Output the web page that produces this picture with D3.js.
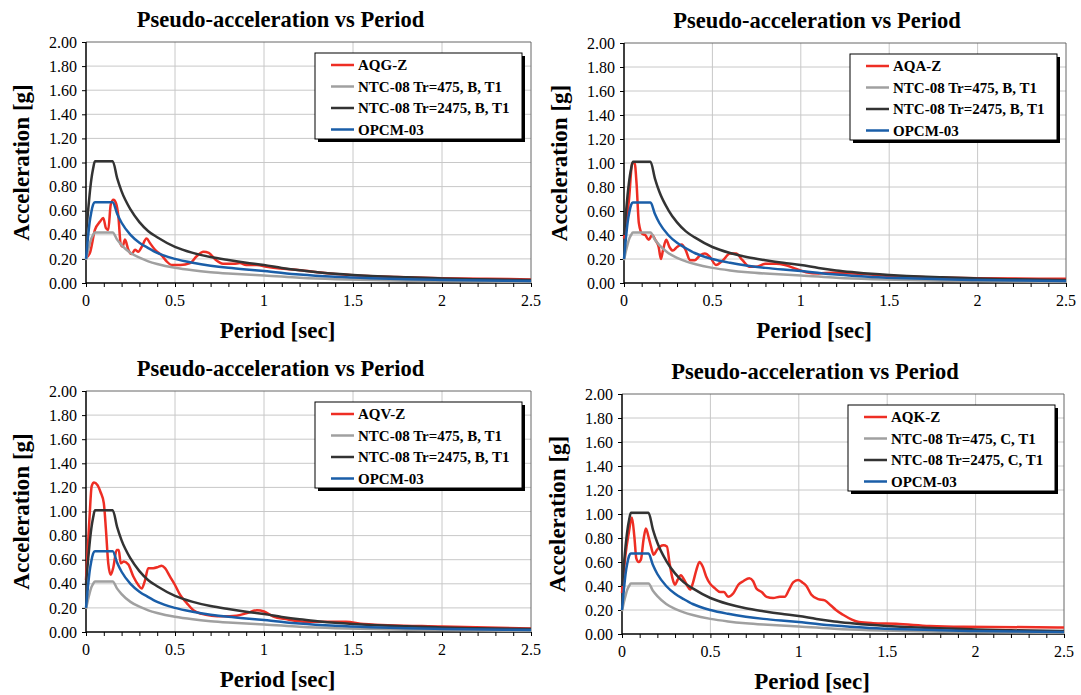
<!DOCTYPE html>
<html>
<head>
<meta charset="utf-8">
<script src="https://cdn.jsdelivr.net/npm/d3@7"></script>
<style>
  body { margin: 0; background: #fff; }
  svg text { font-family: "Times New Roman", "Liberation Serif", Times, "DejaVu Serif", serif !important; }
</style>
</head>
<body>
<div id="chart"></div>
<script>
var width = 1081, height = 695;
var serif = '"Times New Roman", "Liberation Serif", Times, "DejaVu Serif", serif';

// period [s], acceleration [g]
var ntc475 = [[0,0.19],[0.01,0.26],[0.02,0.32],[0.03,0.37],[0.04,0.40],[0.05,0.42],[0.15,0.42],[0.175,0.36],[0.2,0.315],
  [0.25,0.25],[0.3,0.21],[0.35,0.18],[0.4,0.158],[0.5,0.126],[0.6,0.105],[0.7,0.09],[0.8,0.079],[0.9,0.07],[1.0,0.063],
  [1.2,0.044],[1.4,0.032],[1.6,0.025],[1.8,0.019],[2.0,0.016],[2.25,0.012],[2.5,0.01]];
var ntc2475 = [[0,0.40],[0.01,0.57],[0.02,0.73],[0.03,0.86],[0.04,0.95],[0.05,1.01],[0.15,1.01],[0.175,0.87],[0.2,0.76],
  [0.25,0.61],[0.3,0.505],[0.35,0.43],[0.4,0.38],[0.5,0.30],[0.6,0.25],[0.7,0.215],[0.8,0.19],[0.9,0.168],[1.0,0.15],
  [1.1,0.125],[1.2,0.105],[1.3,0.09],[1.4,0.077],[1.5,0.067],[1.6,0.059],[1.8,0.047],[2.0,0.038],[2.2,0.031],[2.5,0.024]];
var opcm03 = [[0,0.20],[0.01,0.36],[0.02,0.50],[0.03,0.59],[0.04,0.65],[0.05,0.67],[0.15,0.67],[0.175,0.575],[0.2,0.50],
  [0.25,0.40],[0.3,0.335],[0.35,0.29],[0.4,0.25],[0.5,0.20],[0.6,0.168],[0.7,0.144],[0.8,0.126],[0.9,0.112],[1.0,0.10],
  [1.2,0.07],[1.4,0.051],[1.6,0.039],[1.8,0.031],[2.0,0.025],[2.25,0.02],[2.5,0.016]];

var aqgZ = [[0,0.21],[0.022,0.25],[0.05,0.44],[0.079,0.51],[0.097,0.54],[0.112,0.455],[0.125,0.44],[0.139,0.65],[0.154,0.69],
  [0.169,0.66],[0.182,0.55],[0.195,0.32],[0.205,0.30],[0.219,0.36],[0.238,0.275],[0.256,0.24],[0.275,0.275],[0.294,0.26],
  [0.313,0.30],[0.34,0.37],[0.36,0.33],[0.388,0.275],[0.425,0.23],[0.453,0.18],[0.48,0.15],[0.53,0.15],[0.585,0.165],
  [0.62,0.22],[0.66,0.26],[0.69,0.25],[0.73,0.19],[0.77,0.16],[0.83,0.16],[0.865,0.165],[0.9,0.15],[0.96,0.15],[1.015,0.135],
  [1.09,0.12],[1.18,0.11],[1.3,0.09],[1.5,0.065],[1.75,0.05],[2.0,0.04],[2.25,0.035],[2.5,0.03]];
var aqaZ = [[0,0.37],[0.028,0.69],[0.047,1.0],[0.06,1.0],[0.071,0.83],[0.084,0.50],[0.103,0.41],[0.12,0.40],[0.14,0.36],
  [0.159,0.40],[0.177,0.36],[0.196,0.30],[0.209,0.20],[0.22,0.27],[0.239,0.36],[0.257,0.30],[0.276,0.27],[0.30,0.30],
  [0.326,0.32],[0.35,0.27],[0.373,0.19],[0.40,0.19],[0.43,0.23],[0.457,0.245],[0.485,0.22],[0.52,0.15],[0.56,0.19],
  [0.60,0.245],[0.634,0.245],[0.67,0.19],[0.71,0.135],[0.746,0.135],[0.80,0.16],[0.86,0.16],[0.91,0.15],[0.97,0.12],
  [1.03,0.09],[1.1,0.08],[1.18,0.085],[1.3,0.08],[1.5,0.06],[2.0,0.04],[2.5,0.035]];
var aqvZ = [[0,0.43],[0.019,0.93],[0.032,1.21],[0.045,1.24],[0.064,1.22],[0.082,1.16],[0.10,1.07],[0.112,0.85],[0.125,0.57],
  [0.139,0.475],[0.154,0.54],[0.172,0.68],[0.184,0.68],[0.195,0.57],[0.213,0.585],[0.238,0.56],[0.266,0.46],[0.294,0.39],
  [0.313,0.36],[0.33,0.42],[0.35,0.53],[0.378,0.53],[0.406,0.54],[0.425,0.55],[0.444,0.53],[0.472,0.46],[0.50,0.39],
  [0.528,0.31],[0.566,0.24],[0.603,0.18],[0.65,0.15],[0.706,0.135],[0.77,0.13],[0.846,0.135],[0.90,0.155],[0.96,0.18],
  [1.0,0.17],[1.05,0.13],[1.13,0.105],[1.24,0.085],[1.37,0.085],[1.46,0.085],[1.56,0.067],[2.0,0.045],[2.5,0.03]];
var aqkZ = [[0,0.34],[0.019,0.65],[0.038,0.84],[0.056,0.97],[0.07,0.81],[0.081,0.63],[0.094,0.60],[0.107,0.62],[0.122,0.79],
  [0.135,0.88],[0.15,0.81],[0.164,0.73],[0.179,0.66],[0.197,0.70],[0.216,0.73],[0.235,0.74],[0.254,0.73],[0.269,0.59],
  [0.288,0.45],[0.30,0.41],[0.314,0.45],[0.333,0.49],[0.352,0.45],[0.37,0.40],[0.385,0.37],[0.40,0.42],[0.42,0.53],
  [0.438,0.60],[0.457,0.56],[0.476,0.48],[0.498,0.42],[0.526,0.38],[0.555,0.35],[0.577,0.35],[0.60,0.31],[0.63,0.34],
  [0.658,0.41],[0.686,0.44],[0.72,0.465],[0.742,0.44],[0.76,0.38],[0.79,0.35],[0.818,0.31],[0.855,0.30],[0.893,0.31],
  [0.92,0.31],[0.945,0.37],[0.968,0.43],[0.996,0.45],[1.02,0.43],[1.043,0.40],[1.07,0.33],[1.11,0.29],[1.147,0.28],
  [1.18,0.24],[1.21,0.20],[1.25,0.16],[1.30,0.12],[1.34,0.10],[1.42,0.09],[1.55,0.085],[1.74,0.067],[1.93,0.06],[2.5,0.055]];

var yTicks = [0, 0.2, 0.4, 0.6, 0.8, 1.0, 1.2, 1.4, 1.6, 1.8, 2.0];
var xTicks = [0, 0.5, 1, 1.5, 2, 2.5];
var xMinor = d3.range(0, 26).map(function(i) {return i / 10;});

var colors = {rec: '#ee2e24', t475: '#a0a0a0', t2475: '#333333', opcm: '#1a5ea8'};

var panels = [
  {x0: 86, x1: 531, y0: 42, y1: 283, rec: aqgZ, names: ['AQG-Z', 'NTC-08 Tr=475, B, T1', 'NTC-08 Tr=2475, B, T1', 'OPCM-03']},
  {x0: 624, x1: 1066, y0: 43, y1: 283, rec: aqaZ, names: ['AQA-Z', 'NTC-08 Tr=475, B, T1', 'NTC-08 Tr=2475, B, T1', 'OPCM-03']},
  {x0: 86, x1: 531, y0: 391, y1: 632, rec: aqvZ, names: ['AQV-Z', 'NTC-08 Tr=475, B, T1', 'NTC-08 Tr=2475, B, T1', 'OPCM-03']},
  {x0: 622, x1: 1064, y0: 394, y1: 634, rec: aqkZ, names: ['AQK-Z', 'NTC-08 Tr=475, C, T1', 'NTC-08 Tr=2475, C, T1', 'OPCM-03']}
];

var svg = d3.select('#chart').append('svg')
  .attr('width', width)
  .attr('height', height)
  .attr('font-family', serif);

panels.forEach(function(p, i) {
  var x = d3.scaleLinear().domain([0, 2.5]).range([p.x0, p.x1]);
  var y = d3.scaleLinear().domain([0, 2]).range([p.y1, p.y0]);
  var g = svg.append('g');
  var cx = (p.x0 + p.x1) / 2;

  // grid
  g.selectAll('.hgrid').data(yTicks.slice(1, -1)).enter().append('line')
    .attr('x1', p.x0).attr('x2', p.x1)
    .attr('y1', function(d) {return y(d);}).attr('y2', function(d) {return y(d);})
    .attr('stroke', '#c8c8c8').attr('stroke-width', 1);
  g.selectAll('.vgrid').data(xTicks.slice(1, -1)).enter().append('line')
    .attr('y1', p.y0).attr('y2', p.y1)
    .attr('x1', function(d) {return x(d);}).attr('x2', function(d) {return x(d);})
    .attr('stroke', '#c8c8c8').attr('stroke-width', 1);
  g.append('path')
    .attr('d', 'M' + p.x0 + ',' + p.y0 + 'H' + p.x1 + 'V' + p.y1)
    .attr('fill', 'none').attr('stroke', '#666').attr('stroke-width', 1);

  // axes
  var ya = d3.axisLeft(y).tickValues(yTicks).tickFormat(d3.format('.2f')).tickSize(4).tickPadding(5);
  var yg = g.append('g').attr('transform', 'translate(' + p.x0 + ',0)').call(ya);
  var xa = d3.axisBottom(x).tickValues(xMinor).tickFormat('').tickSize(4);
  var xg = g.append('g').attr('transform', 'translate(0,' + p.y1 + ')').call(xa);
  [yg, xg].forEach(function(a) {
    a.attr('font-family', serif);
    a.select('.domain').attr('stroke', '#000').attr('stroke-width', 1.5);
    a.selectAll('.tick line').attr('stroke', '#000');
  });
  yg.select('.domain').attr('d', 'M0,' + p.y0 + 'V' + p.y1);
  xg.select('.domain').attr('d', 'M' + p.x0 + ',0H' + p.x1);
  yg.selectAll('text').attr('font-size', 16).attr('fill', '#000');
  g.selectAll('.xlab').data(xTicks).enter().append('text')
    .attr('x', function(d) {return x(d);}).attr('y', p.y1 + 23)
    .attr('text-anchor', 'middle').attr('font-size', 16)
    .text(function(d) {return d;});

  // titles
  g.append('text').attr('x', cx - 28).attr('y', p.y0 - 15)
    .attr('text-anchor', 'middle').attr('font-size', 22.5).attr('font-weight', 'bold')
    .text('Pseudo-acceleration vs Period');
  g.append('text').attr('x', cx - 31).attr('y', p.y1 + 55)
    .attr('text-anchor', 'middle').attr('font-size', 23).attr('font-weight', 'bold')
    .text('Period [sec]');
  g.append('text')
    .attr('transform', 'translate(' + (p.x0 - 57) + ',' + ((p.y0 + p.y1) / 2) + ') rotate(-90)')
    .attr('text-anchor', 'middle').attr('font-size', 23).attr('font-weight', 'bold')
    .text('Acceleration [g]');

  // curves
  var line = d3.line()
    .x(function(d) {return x(d[0]);})
    .y(function(d) {return y(d[1]);})
    .curve(d3.curveMonotoneX);
  // recorded spectrum first, code spectra drawn over it
  var series = [
    {data: p.rec, color: colors.rec},
    {data: ntc475, color: colors.t475},
    {data: ntc2475, color: colors.t2475},
    {data: opcm03, color: colors.opcm}
  ];
  g.selectAll('.curve').data(series).enter().append('path')
    .attr('d', function(d) {return line(d.data);})
    .attr('fill', 'none')
    .attr('stroke', function(d) {return d.color;})
    .attr('stroke-width', 2.5)
    .attr('stroke-linejoin', 'round');

  // legend
  var lx = p.x1 - 216, ly = p.y0 + 11, lw = 207, lh = 86;
  var leg = g.append('g').attr('transform', 'translate(' + lx + ',' + ly + ')');
  leg.append('rect').attr('x', 3).attr('y', 3).attr('width', lw).attr('height', lh).attr('fill', '#000');
  leg.append('rect').attr('width', lw).attr('height', lh).attr('fill', '#fff')
    .attr('stroke', '#000').attr('stroke-width', 1);
  var legColors = [colors.rec, colors.t475, colors.t2475, colors.opcm];
  var items = leg.selectAll('.item').data(p.names).enter().append('g')
    .attr('transform', function(d, k) {return 'translate(0,' + (12 + k * 21.5) + ')';});
  items.append('line').attr('x1', 16).attr('x2', 39).attr('y1', 0).attr('y2', 0)
    .attr('stroke', function(d, k) {return legColors[k];}).attr('stroke-width', 2.5);
  items.append('text').attr('x', 43).attr('y', 5)
    .attr('font-size', 15).attr('font-weight', 'bold')
    .text(function(d) {return d;});
});
</script>
</body>
</html>
